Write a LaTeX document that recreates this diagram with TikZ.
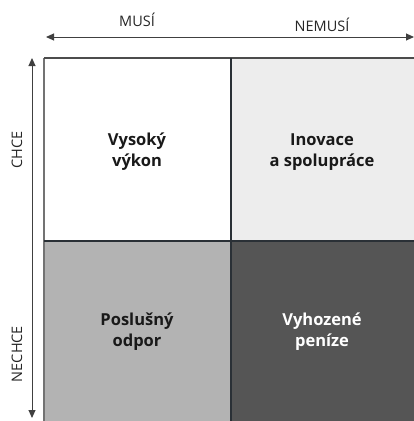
\documentclass[tikz,border=0pt]{standalone}
\usepackage{fontspec}
\setmainfont{Open Sans}
\usetikzlibrary{arrows.meta}
\definecolor{cellA}{HTML}{FFFFFF}
\definecolor{cellB}{HTML}{EDEDED}
\definecolor{cellC}{HTML}{B3B3B3}
\definecolor{cellD}{HTML}{555555}
\definecolor{gridline}{HTML}{2A3036}
\tikzset{
  axislabel/.style={font=\fontsize{14.5}{17}\selectfont, text=black!85},
  celltext/.style={font=\fontsize{16.5}{21}\selectfont\bfseries, align=center, text=black!90},
  axisarrow/.style={draw=black!75, line width=1pt, {Triangle[length=8pt,width=7pt]}-{Triangle[length=8pt,width=7pt]}},
  gridstroke/.style={draw=gridline, line width=1.3pt}
}
\begin{document}
\begin{tikzpicture}[x=1pt,y=-1pt]
\useasboundingbox (0,0) rectangle (414,421);
% cells
\fill[cellA] (44,58) rectangle (231,241);
\fill[cellB] (231,58) rectangle (414,241);
\fill[cellC] (44,241) rectangle (231,421);
\fill[cellD] (231,241) rectangle (414,421);
% grid lines
\draw[draw=black!55, line width=1.2pt] (44,421) -- (44,58);
\draw[draw=black!70, line width=1.2pt] (44,58) -- (414,58);
\draw[gridstroke] (231,58) -- (231,421);
\draw[gridstroke] (44,241) -- (414,241);
% axes
\coordinate (hl) at (46,37);
\coordinate (hr) at (414,37);
\coordinate (vt) at (32,58);
\coordinate (vb) at (32,418);
\draw[axisarrow] (hl) -- (hr);
\draw[axisarrow] (vt) -- (vb);
% axis labels
\node[axislabel] (musi) at (137,20) {MUSÍ};
\node[axislabel] (nemusi) at (322,25) {NEMUSÍ};
\node[axislabel, rotate=90] (chce) at (17,150) {CHCE};
\node[axislabel, rotate=90] (nechce) at (17,354) {NECHCE};
% cell texts
\node[celltext] (a) at (137,152) {Vysoký\\výkon};
\node[celltext] (b) at (322,152) {Inovace\\a spolupráce};
\node[celltext] (c) at (137,332) {Poslušný\\odpor};
\node[celltext, text=white] (d) at (322,332) {Vyhozené\\peníze};
\end{tikzpicture}
\end{document}
